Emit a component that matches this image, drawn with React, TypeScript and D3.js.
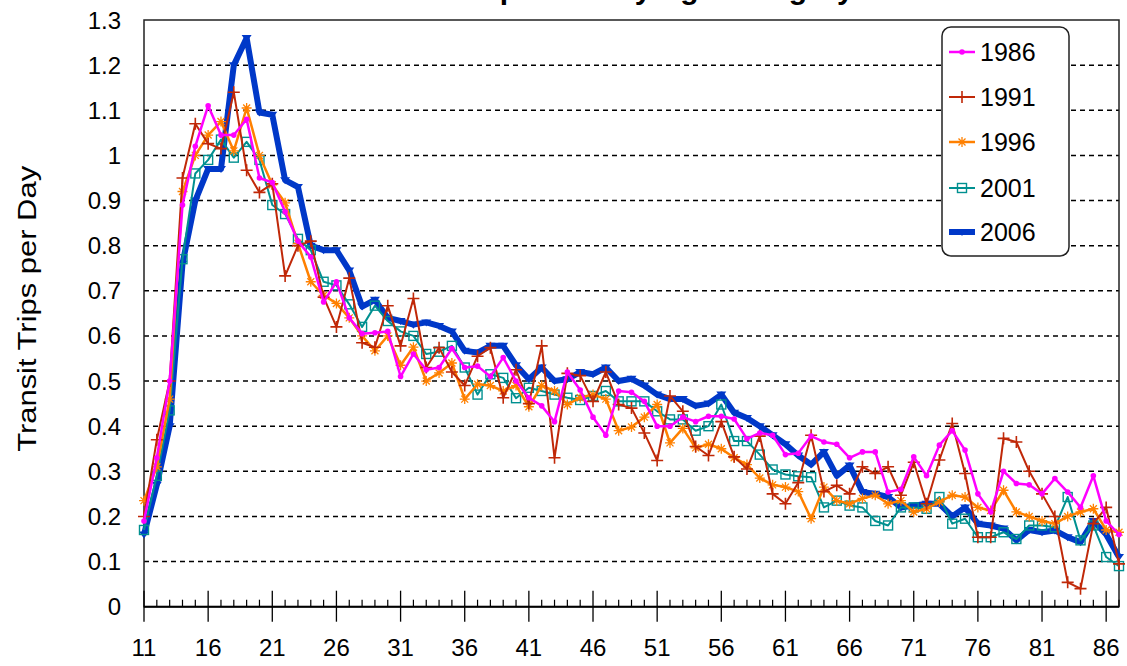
import React from 'react';
import * as d3 from 'd3';

const ages = [11,12,13,14,15,16,17,18,19,20,21,22,23,24,25,26,27,28,29,30,31,32,33,34,35,36,37,38,39,40,41,42,43,44,45,46,47,48,49,50,51,52,53,54,55,56,57,58,59,60,61,62,63,64,65,66,67,68,69,70,71,72,73,74,75,76,77,78,79,80,81,82,83,84,85,86,87];

const xTickLabels = [11,16,21,26,31,36,41,46,51,56,61,66,71,76,81,86];
const yTicks = [0,0.1,0.2,0.3,0.4,0.5,0.6,0.7,0.8,0.9,1,1.1,1.2,1.3];

const v1986 = [0.19,0.33,0.50,0.89,1.02,1.11,1.045,1.045,1.08,0.95,0.94,0.875,0.81,0.775,0.675,0.72,0.64,0.605,0.607,0.61,0.51,0.56,0.525,0.53,0.572,0.53,0.533,0.51,0.552,0.50,0.463,0.445,0.41,0.52,0.48,0.42,0.38,0.478,0.475,0.455,0.40,0.40,0.42,0.41,0.422,0.422,0.416,0.372,0.385,0.38,0.337,0.34,0.378,0.365,0.36,0.33,0.343,0.343,0.254,0.26,0.332,0.29,0.358,0.39,0.347,0.25,0.21,0.30,0.273,0.27,0.25,0.284,0.254,0.22,0.29,0.19,0.16];
const v1991 = [0.20,0.37,0.50,0.95,1.07,1.026,1.015,1.14,0.967,0.918,0.937,0.733,0.80,0.81,0.686,0.62,0.728,0.585,0.575,0.667,0.578,0.683,0.53,0.574,0.52,0.49,0.555,0.574,0.463,0.525,0.45,0.578,0.33,0.517,0.512,0.455,0.52,0.448,0.44,0.385,0.324,0.467,0.433,0.355,0.335,0.41,0.332,0.305,0.378,0.25,0.228,0.275,0.38,0.255,0.269,0.25,0.31,0.295,0.31,0.247,0.32,0.228,0.325,0.406,0.295,0.154,0.154,0.373,0.365,0.30,0.25,0.20,0.054,0.04,0.184,0.22,0.095];
const v1996 = [0.235,0.31,0.46,0.92,1.00,1.045,1.075,1.01,1.105,1.00,0.935,0.895,0.805,0.72,0.69,0.672,0.64,0.60,0.567,0.60,0.535,0.575,0.50,0.518,0.54,0.46,0.493,0.49,0.478,0.49,0.443,0.49,0.478,0.448,0.463,0.47,0.46,0.39,0.398,0.42,0.448,0.363,0.395,0.352,0.36,0.35,0.33,0.315,0.285,0.27,0.265,0.255,0.195,0.265,0.235,0.228,0.24,0.247,0.228,0.235,0.21,0.217,0.232,0.247,0.243,0.22,0.213,0.258,0.21,0.20,0.19,0.184,0.20,0.21,0.217,0.17,0.165];
const v2001 = [0.17,0.29,0.435,0.77,0.96,0.99,1.035,0.995,1.03,0.99,0.89,0.87,0.815,0.79,0.72,0.712,0.67,0.62,0.667,0.633,0.61,0.60,0.56,0.565,0.578,0.53,0.47,0.515,0.507,0.462,0.485,0.478,0.47,0.463,0.458,0.467,0.478,0.455,0.455,0.455,0.433,0.415,0.415,0.39,0.40,0.448,0.367,0.367,0.337,0.304,0.293,0.289,0.287,0.22,0.235,0.224,0.22,0.19,0.18,0.22,0.22,0.217,0.243,0.184,0.195,0.154,0.154,0.165,0.15,0.18,0.18,0.176,0.243,0.147,0.18,0.11,0.09];
const v2006 = [0.16,0.27,0.40,0.76,0.90,0.97,0.97,1.20,1.26,1.095,1.09,0.945,0.93,0.80,0.79,0.79,0.745,0.665,0.68,0.64,0.633,0.625,0.63,0.622,0.61,0.567,0.563,0.578,0.578,0.535,0.504,0.53,0.50,0.504,0.52,0.515,0.53,0.50,0.505,0.49,0.47,0.46,0.46,0.445,0.45,0.47,0.43,0.418,0.40,0.38,0.36,0.335,0.315,0.343,0.29,0.313,0.254,0.25,0.243,0.22,0.224,0.228,0.228,0.20,0.22,0.184,0.18,0.173,0.147,0.17,0.165,0.169,0.154,0.143,0.19,0.16,0.11];

const seriesNames = ['1986','1991','1996','2001','2006'];
const seriesValues = [v1986, v1991, v1996, v2001, v2006];
const colors = ['#FF00FF', '#C02808', '#FF8000', '#009090', '#0038C8'];
const widths = [2.5, 2, 2.5, 2, 6];
const markers = ['dot', 'plus', 'star', 'square', 'tri'];

const FONT = 'Liberation Sans, Arial, sans-serif';

function Marker({ kind, cx, cy, color }: { kind: string; cx: number; cy: number; color: string }) {
  const t = `translate(${cx},${cy})`;
  if (kind === 'dot') return <circle cx={cx} cy={cy} r={2.8} fill={color} />;
  if (kind === 'plus')
    return <path transform={t} d="M-6,0H6M0,-6V6" stroke={color} strokeWidth={1.6} fill="none" />;
  if (kind === 'star')
    return <path transform={t} d="M-5,0H5M0,-5V5M-3.5,-3.5L3.5,3.5M-3.5,3.5L3.5,-3.5" stroke={color} strokeWidth={1.3} fill="none" />;
  if (kind === 'square')
    return <rect x={cx - 4.5} y={cy - 4.5} width={9} height={9} stroke={color} strokeWidth={1.4} fill="none" />;
  if (kind === 'tri')
    return <path transform={t} d="M-5,-3L5,-3L0,4Z" fill={color} />;
  return null;
}

export default function App() {
  const x = d3.scaleLinear().domain([11, 87]).range([144, 1119]);
  const y = d3.scaleLinear().domain([0, 1.3]).range([606.7, 20]);
  const minorTicks = ages.filter((a) => !xTickLabels.includes(a));
  const order = [4, 3, 2, 1, 0];
  const legendY = [52, 97, 142, 188, 232];

  return (
    <svg width={1127} height={666} style={{ position: 'absolute', left: 0, top: 0, background: '#fff' }} fontFamily={FONT}>
      <rect x={0} y={0} width={1127} height={666} fill="#fff" />
      <text x={605} y={-1} textAnchor="middle" fontSize={30} fontWeight="bold">Transit Trip Rates by Age Category</text>
      {/* gridlines */}
      {yTicks.filter((v) => v > 0 && v < 1.3).map((v) => (
        <line key={v} x1={x(11)} x2={x(87)} y1={y(v)} y2={y(v)} stroke="#000" strokeWidth={1.5} strokeDasharray="5,4" />
      ))}
      {/* frame */}
      <rect x={x(11)} y={y(1.3)} width={x(87) - x(11)} height={y(0) - y(1.3)} fill="none" stroke="#222" strokeWidth={1.5} />
      {/* x axis ticks */}
      {xTickLabels.map((a) => (
        <g key={a}>
          <line x1={x(a)} x2={x(a)} y1={y(0) - 16} y2={y(0) + 15} stroke="#000" strokeWidth={1.3} />
          <text x={x(a)} y={656} textAnchor="middle" fontSize={24}>{a}</text>
        </g>
      ))}
      {minorTicks.map((a) => (
        <line key={a} x1={x(a)} x2={x(a)} y1={y(0) - 7} y2={y(0)} stroke="#000" strokeWidth={1.2} />
      ))}
      <line x1={x(11)} x2={x(87)} y1={y(0)} y2={y(0)} stroke="#000" strokeWidth={2} />
      {/* y labels */}
      {yTicks.map((v) => (
        <text key={v} x={121} y={y(v) + 8.5} textAnchor="end" fontSize={24}>{String(+v.toFixed(1))}</text>
      ))}
      <text transform={`translate(36,${y(0.66)}) rotate(-90)`} textAnchor="middle" fontSize={25} textLength={286} lengthAdjust="spacingAndGlyphs">Transit Trips per Day</text>
      {/* series */}
      {order.map((si) => {
        const vals = seriesValues[si];
        const line = d3.line<number>().x((_, i) => x(ages[i])).y((d) => y(d));
        return (
          <g key={seriesNames[si]}>
            <path d={line(vals) || ''} fill="none" stroke={colors[si]} strokeWidth={widths[si]} strokeLinejoin="round" />
            {vals.map((v, i) => (
              <Marker key={i} kind={markers[si]} cx={x(ages[i])} cy={y(v)} color={colors[si]} />
            ))}
          </g>
        );
      })}
      {/* legend */}
      <rect x={942} y={27} width={127} height={229} rx={9} fill="#fff" stroke="#222" strokeWidth={1.5} />
      {seriesNames.map((n, i) => (
        <g key={n}>
          <line x1={949} x2={975} y1={legendY[i]} y2={legendY[i]} stroke={colors[i]} strokeWidth={widths[i]} />
          <Marker kind={markers[i]} cx={962} cy={legendY[i]} color={colors[i]} />
          <text x={980} y={legendY[i] + 9} fontSize={25}>{n}</text>
        </g>
      ))}
    </svg>
  );
}
